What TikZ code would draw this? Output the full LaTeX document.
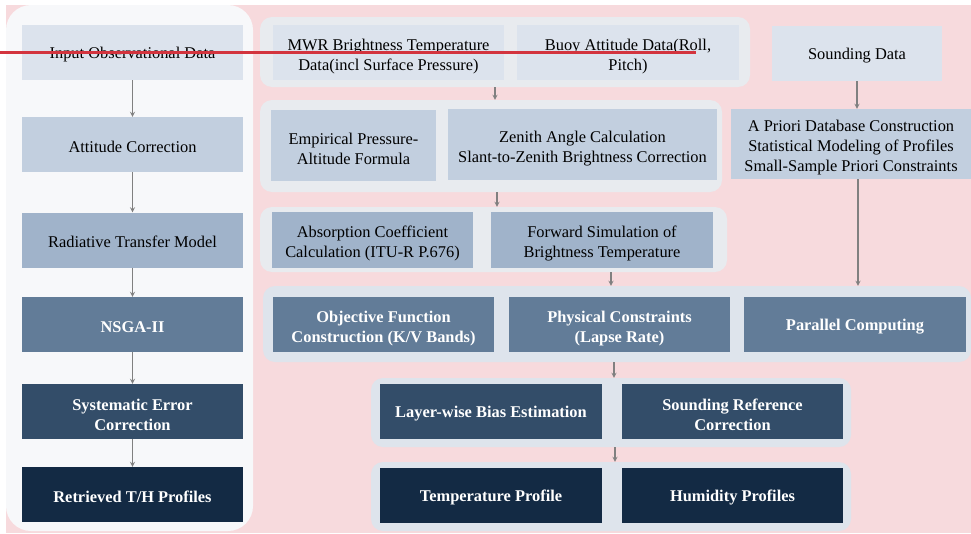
\documentclass[tikz,border=0pt]{standalone}
\usepackage{fontspec}
\setmainfont{Liberation Serif}
\usepackage{tikz}
\usetikzlibrary{shapes,fit,calc}

\definecolor{bgpink}{HTML}{F7DADD}
\definecolor{leftpane}{HTML}{F7F8FA}
\definecolor{grpA}{HTML}{E8EBEF}
\definecolor{grpB}{HTML}{DEE4EC}
\definecolor{lvone}{HTML}{DCE3ED}
\definecolor{lvtwo}{HTML}{C2CFDF}
\definecolor{lvthree}{HTML}{A0B3CA}
\definecolor{lvfour}{HTML}{627C98}
\definecolor{lvfive}{HTML}{334D69}
\definecolor{lvsix}{HTML}{132A44}
\definecolor{arrgray}{HTML}{808080}
\definecolor{strike}{HTML}{D3343E}

\tikzset{sz/.style 2 args={minimum width=#1,minimum height=#2}}

\begin{document}
\begin{tikzpicture}[x=1pt,y=-1pt]
    \tikzstyle{dedge} = [line width=1.2pt,->,>=stealth,draw=arrgray]
    \tikzstyle{panel} = [rectangle,rounded corners=12pt,inner sep=0pt,draw=none]
    \tikzstyle{box}=[
      rectangle,
      inner sep=0pt,
      align=center,
      anchor=center,
      draw=none,
      text=black,
      font=\fontsize{16.4}{20}\selectfont,
      execute at begin node={\rule{0pt}{15.5pt}},
    ]
    \tikzstyle{dbox} = [box,text=white,font=\fontsize{16.4}{20}\selectfont\bfseries]
    \tikzstyle{two} = [execute at begin node={\rule{0pt}{39pt}}]
    \tikzstyle{three} = [execute at begin node={\rule{0pt}{59pt}}]
    
    \useasboundingbox (0,0) rectangle (971,533);
    \fill[bgpink] (6,5) rectangle (971,533);
    
    % left column
    \node[panel,fill=leftpane,rounded corners=25pt,sz={247}{526}] (left) at (129.5,268) {};
    \node[box,fill=lvone,sz={221}{55}] (input) at (132.5,52.5) {Input Observational Data};
    \node[box,fill=lvtwo,sz={221}{55}] (att) at (132.5,144.5) {Attitude Correction};
    \node[box,fill=lvthree,sz={221}{55}] (rtm) at (132.5,240) {Radiative Transfer Model};
    \node[dbox,fill=lvfour,sz={221}{55}] (nsga) at (132.5,324.5) {NSGA-II};
    \node[dbox,two,fill=lvfive,sz={221}{55}] (sec) at (132.5,411.5) {Systematic Error\\Correction};
    \node[dbox,fill=lvsix,sz={221}{55}] (ret) at (132.5,494.5) {Retrieved T/H Profiles};
    
    % right groups
    \node[panel,fill=grpA,sz={490}{70}] (g1) at (505,52) {};
    \node[panel,fill=grpA,sz={462}{92}] (g2) at (491,146) {};
    \node[panel,fill=grpA,sz={467}{65}] (g3) at (493.5,239.5) {};
    \node[panel,fill=grpB,sz={708}{76}] (g4) at (617,324) {};
    \node[panel,fill=grpB,sz={480}{69}] (g5) at (611,412.5) {};
    \node[panel,fill=grpB,sz={480}{69}] (g6) at (611,496.5) {};
    
    \node[box,two,fill=lvone,sz={231}{55}] (mwr) at (388.5,52.5) {MWR Brightness Temperature\\Data(incl Surface Pressure)};
    \node[box,two,fill=lvone,sz={222}{55}] (buoy) at (628,52.5) {Buoy Attitude Data(Roll,\\Pitch)};
    \node[box,fill=lvone,sz={170}{55}] (snd) at (857,53.5) {Sounding Data};
    \node[box,two,fill=lvtwo,sz={165}{71}] (emp) at (353.5,145.5) {Empirical Pressure-\\Altitude Formula};
    \node[box,two,fill=lvtwo,sz={269}{71}] (zen) at (582.5,144.5) {Zenith Angle Calculation\\Slant-to-Zenith Brightness Correction};
    \node[box,three,fill=lvtwo,sz={240}{70}] (apri) at (851,144) {A Priori Database Construction\\Statistical Modeling of Profiles\\Small-Sample Priori Constraints};
    \node[box,two,fill=lvthree,sz={201}{56}] (absc) at (372.5,240) {Absorption Coefficient\\Calculation (ITU-R P.676)};
    \node[box,two,fill=lvthree,sz={222}{56}] (fwd) at (602,240) {Forward Simulation of\\Brightness Temperature};
    \node[dbox,two,fill=lvfour,sz={221}{55}] (obj) at (383.5,324.5) {Objective Function\\Construction (K/V Bands)};
    \node[dbox,two,fill=lvfour,sz={221}{55}] (phys) at (619.5,324.5) {Physical Constraints\\(Lapse Rate)};
    \node[dbox,fill=lvfour,sz={222}{55}] (par) at (855,324.5) {Parallel Computing};
    \node[dbox,fill=lvfive,sz={222}{55}] (layer) at (491,411.5) {Layer-wise Bias Estimation};
    \node[dbox,two,fill=lvfive,sz={221}{55}] (sref) at (732.5,411.5) {Sounding Reference\\Correction};
    \node[dbox,fill=lvsix,sz={222}{55}] (temp) at (491,495.5) {Temperature Profile};
    \node[dbox,fill=lvsix,sz={221}{55}] (hum) at (732.5,495.5) {Humidity Profiles};
    
    \draw[dedge] (input)--(att);
    \draw[dedge] (att)--(rtm);
    \draw[dedge] (rtm)--(nsga);
    \draw[dedge] (nsga)--(sec);
    \draw[dedge] (sec)--(ret);
    
    \draw[dedge] ([xshift=-10pt]g1.south)--([xshift=4pt]g2.north);
    \draw[dedge] ([xshift=6pt]g2.south)--([xshift=3.5pt]g3.north);
    \draw[dedge] ([xshift=117.5pt]g3.south)--([xshift=-6pt]g4.north);
    \draw[dedge] ([xshift=-3pt]g4.south)--([xshift=3pt]g5.north);
    \draw[dedge] ([xshift=4pt]g5.south)--([xshift=4pt]g6.north);
    \draw[dedge] (snd)--(snd|-apri.north);
    \draw[dedge] ([xshift=7pt]apri.south)--([xshift=7pt]apri.south|-g4.north);
    
    % stray red stroke
    \coordinate (rs) at (0,52);
    \coordinate (re) at (696,52);
    \draw[strike,line width=3pt] (rs)--(re);
  \end{tikzpicture}
\end{document}
